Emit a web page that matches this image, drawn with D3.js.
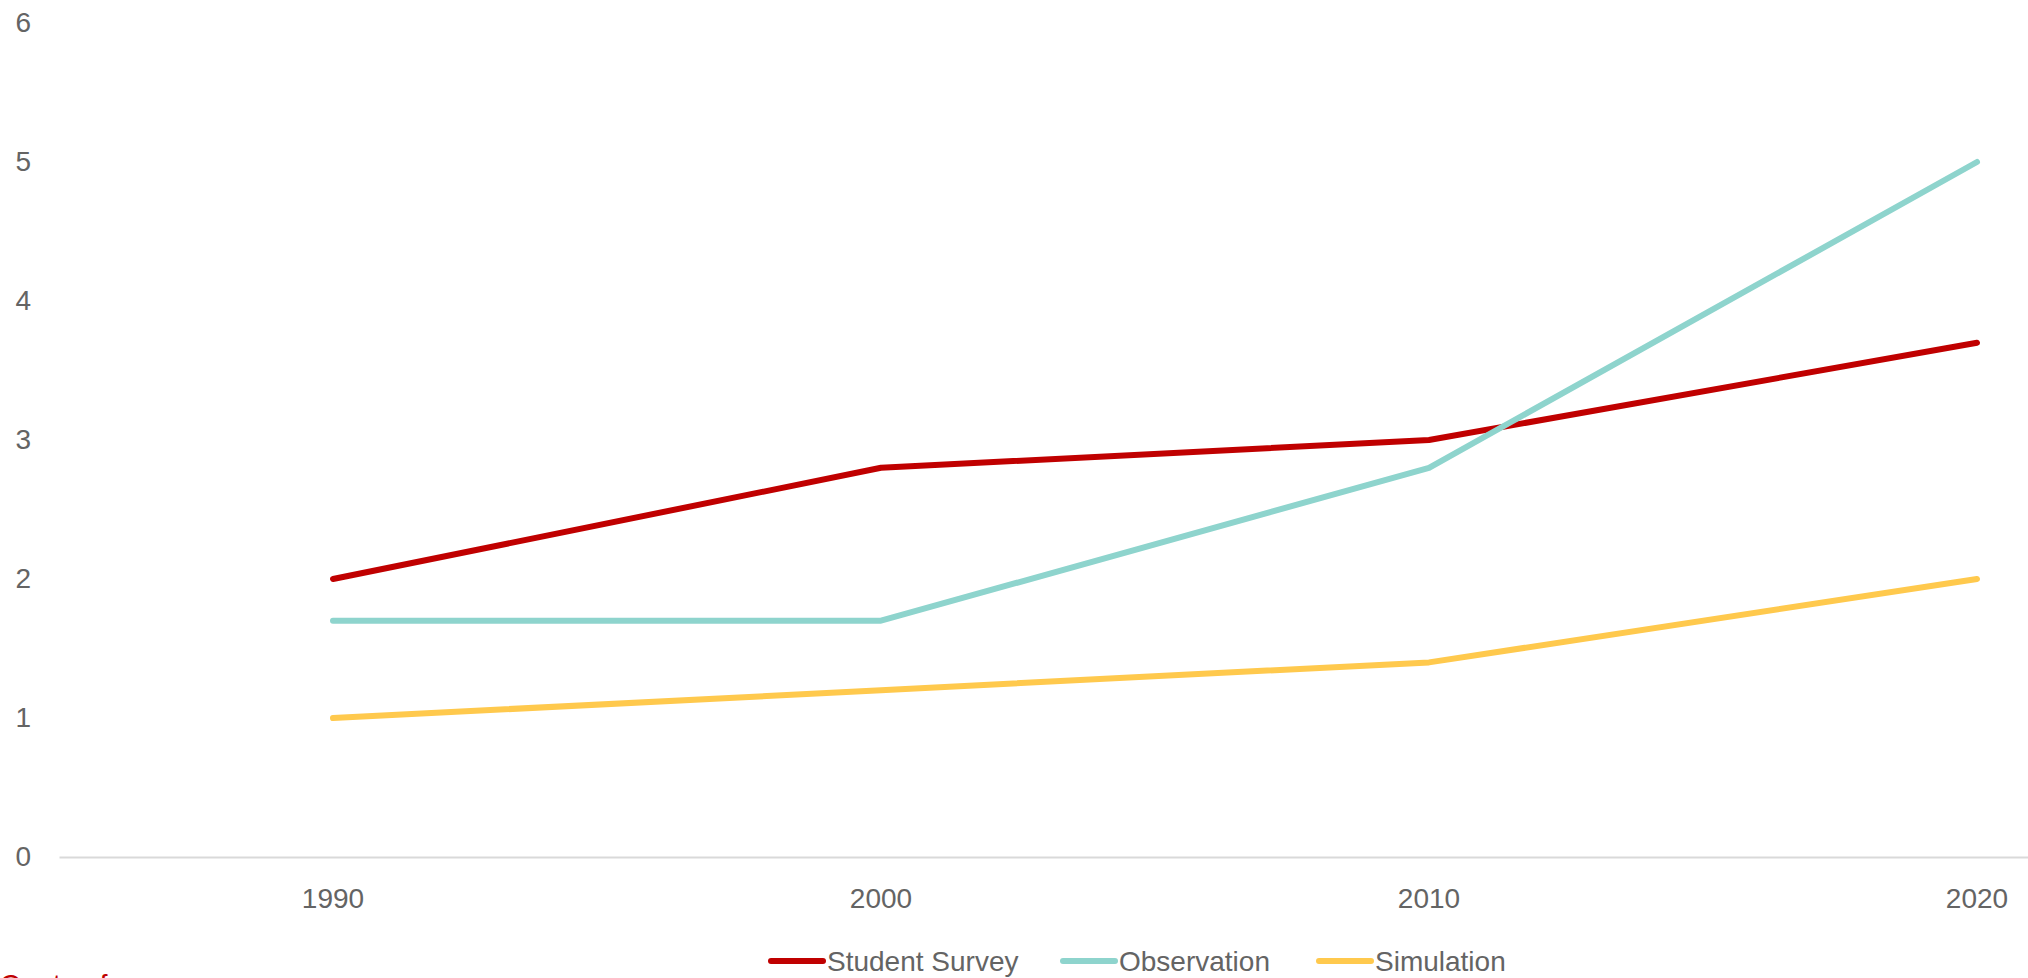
<!DOCTYPE html>
<html>
<head>
<meta charset="utf-8">
<script src="https://cdn.jsdelivr.net/npm/d3@7"></script>
<style>
  html, body { margin: 0; padding: 0; background: #fff; overflow: hidden; }
  svg { display: block; }
  text { font-family: "Liberation Sans", Arial, sans-serif; }
</style>
</head>
<body>
<svg id="chart" width="2028" height="978"></svg>
<script>
const years = ["1990", "2000", "2010", "2020"];
const studentSurvey = [2.0, 2.8, 3.0, 3.7];
const observation = [1.7, 1.7, 2.8, 5.0];
const simulation = [1.0, 1.2, 1.4, 2.0];
const yTicks = [0, 1, 2, 3, 4, 5, 6];
const seriesNames = ["Student Survey", "Observation", "Simulation"];
const seriesColors = ["#C00000", "#8ED4CD", "#FFC94D"];
const footnote = "Quota of";

const series = [studentSurvey, observation, simulation].map((v, i) => ({
  name: seriesNames[i], color: seriesColors[i], values: v
}));

const svg = d3.select("#chart");
const textColor = "#646464";
const fontSize = 28;

const x = d3.scaleBand().domain(years).range([59, 2251]);
const y = d3.scaleLinear().domain([0, 6]).range([857, 23]);

// Y tick labels
const yAxis = d3.axisLeft(y).tickValues(yTicks).tickSize(0).tickPadding(0).tickFormat(d3.format("d"));
const gy = svg.append("g").attr("transform", "translate(31,0)").call(yAxis);
gy.select(".domain").remove();
gy.selectAll("text").attr("font-size", fontSize).attr("fill", textColor)
  .attr("font-family", "Liberation Sans, Arial, sans-serif");

// X axis
const xAxis = d3.axisBottom(x).tickSize(0).tickPadding(0);
const gx = svg.append("g").attr("transform", `translate(0,${y(0)})`).call(xAxis);
gx.select(".domain").attr("stroke", "#D9D9D9").attr("stroke-width", 2);
gx.selectAll("text").attr("font-size", fontSize).attr("fill", textColor)
  .attr("font-family", "Liberation Sans, Arial, sans-serif")
  .attr("dy", 0).attr("y", 51);

// Lines
const line = d3.line()
  .x((d, i) => x(years[i]) + x.bandwidth() / 2)
  .y(d => y(d));

svg.append("g").selectAll("path")
  .data(series)
  .join("path")
  .attr("d", s => line(s.values))
  .attr("fill", "none")
  .attr("stroke", s => s.color)
  .attr("stroke-width", 6)
  .attr("stroke-linecap", "round")
  .attr("stroke-linejoin", "round");

// Legend
const legendStarts = [771, 1063, 1319];
const lg = svg.append("g").attr("transform", "translate(0,961)");
const items = lg.selectAll("g").data(series).join("g")
  .attr("transform", (d, i) => `translate(${legendStarts[i]},0)`);
items.append("line")
  .attr("x1", 0).attr("x2", 52).attr("y1", 0).attr("y2", 0)
  .attr("stroke", d => d.color).attr("stroke-width", 6).attr("stroke-linecap", "round");
items.append("text")
  .attr("x", 56).attr("y", 0).attr("dy", "0.35em")
  .attr("font-size", fontSize).attr("fill", textColor)
  .text(d => d.name);

// Footnote (partially cut off by the bottom edge, as in the reference)
svg.append("text")
  .attr("x", 0).attr("y", 994)
  .attr("font-size", fontSize).attr("fill", "#C00000")
  .text(footnote);
</script>
</body>
</html>
